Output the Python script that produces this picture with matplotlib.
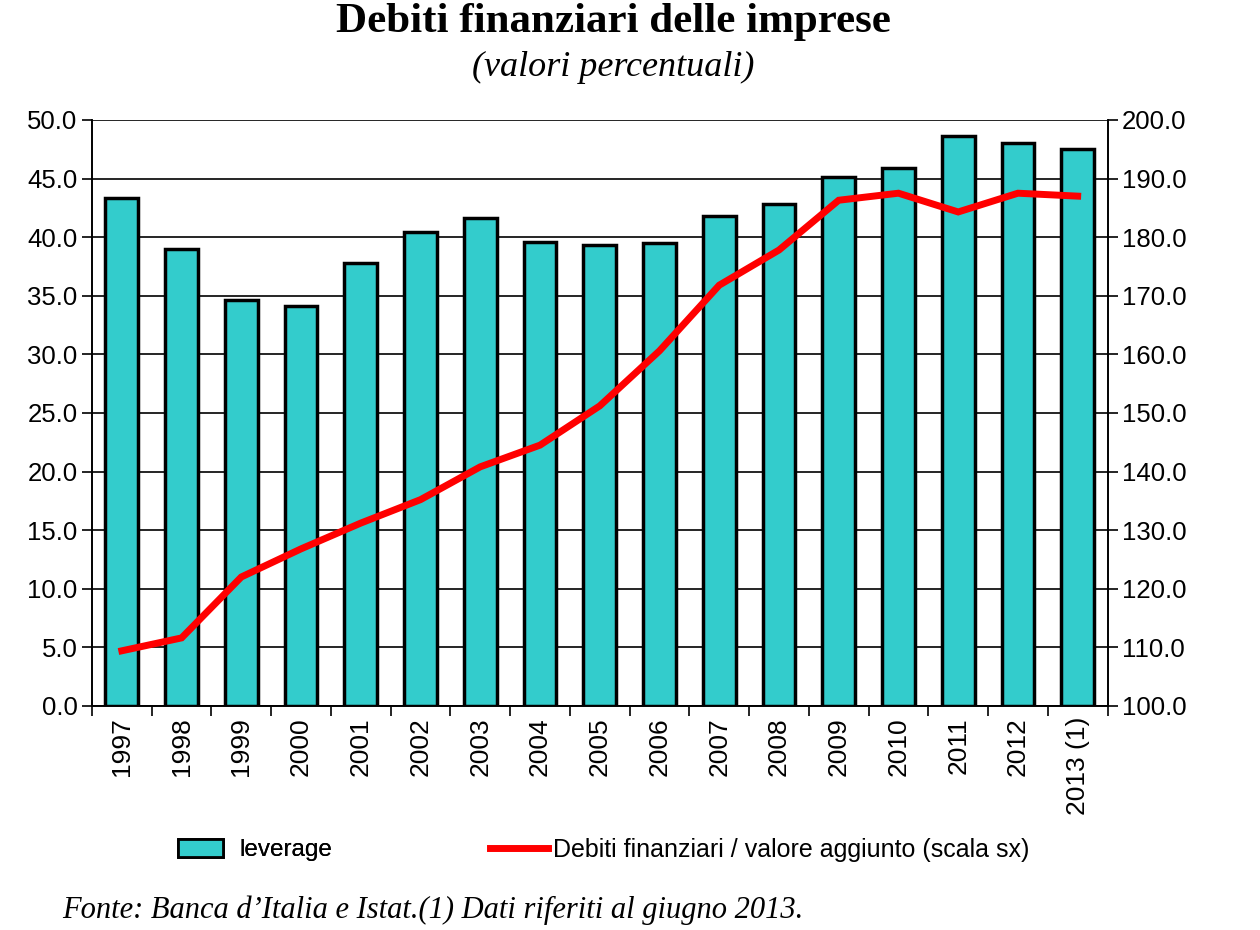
import numpy as np
import matplotlib.pyplot as plt
from matplotlib.patches import Patch
from matplotlib.lines import Line2D

anni = ["1997", "1998", "1999", "2000", "2001", "2002", "2003", "2004", "2005",
        "2006", "2007", "2008", "2009", "2010", "2011", "2012", "2013 (1)"]
leverage = [43.3, 39.0, 34.6, 34.1, 37.8, 40.4, 41.6, 39.6, 39.3,
            39.5, 41.8, 42.8, 45.1, 45.9, 48.6, 48.0, 47.5]
debiti_va = [109.4, 111.6, 122.0, 126.8, 131.2, 135.2, 140.8, 144.5, 151.2,
             160.6, 171.8, 177.8, 186.3, 187.5, 184.3, 187.5, 187.0]

plt.rcParams['font.family'] = ['Liberation Sans', 'DejaVu Sans']
serif = ["Liberation Serif", "DejaVu Serif"]

fig = plt.figure(figsize=(12.6, 9.3), dpi=100)
ax = fig.add_axes([0.073, 0.241, 0.806, 0.630])
ax2 = ax.twinx()

x = np.arange(len(anni))
ax.bar(x, leverage, width=0.55, color="#33CCCC", edgecolor="black", linewidth=2.5, zorder=3)
ax.set_ylim(0, 50)
ax.set_yticks(np.arange(0, 50.1, 5))
ax.set_yticklabels([f"{v:.1f}" for v in np.arange(0, 50.1, 5)], fontsize=18.5)
ax.yaxis.grid(True, color="black", linewidth=1.2, zorder=0)
ax.set_axisbelow(True)
ax.set_xlim(-0.5, len(anni) - 0.5)

# etichette al centro, tacche tra le categorie
ax.set_xticks(x)
ax.set_xticklabels(anni, rotation=90, fontsize=19)
ax.tick_params(axis="x", length=0, pad=8)
ax.set_xticks(np.arange(-0.5, len(anni), 1), minor=True)
ax.tick_params(axis="x", which="minor", length=7, width=1.2, direction="out")
ax.tick_params(axis="y", length=7, width=1.2, direction="out")

ax2.plot(x, debiti_va, color="#FF0000", linewidth=5, solid_joinstyle="miter", zorder=4)
ax2.set_ylim(100, 200)
ax2.set_yticks(np.arange(100, 200.1, 10))
ax2.set_yticklabels([f"{v:.1f}" for v in np.arange(100, 200.1, 10)], fontsize=18.5)
ax2.tick_params(axis="y", length=7, width=1.2, direction="out")

for a in (ax, ax2):
    a.spines["top"].set_visible(False)
    for s in ("left", "right", "bottom"):
        a.spines[s].set_linewidth(1.2)

fig.text(0.487, 0.976, "Debiti finanziari delle imprese", ha="center", va="center",
         fontsize=31, fontweight="bold", family=serif)
fig.text(0.487, 0.927, "(valori percentuali)", ha="center", va="center",
         fontsize=26, style="italic", family=serif)

leg1 = fig.legend([Patch(facecolor="#33CCCC", edgecolor="black", linewidth=2)], ["leverage"],
                  loc="center left", bbox_to_anchor=(0.141, 0.086), frameon=False,
                  fontsize=17.5, borderpad=0, borderaxespad=0,
                  handlelength=1.85, handleheight=0.75, handletextpad=0.7)
fig.add_artist(leg1)
fig.legend([Line2D([0], [0], color="#FF0000", linewidth=5)],
           ["Debiti finanziari / valore aggiunto (scala sx)"],
           loc="center left", bbox_to_anchor=(0.389, 0.086), frameon=False,
           fontsize=18, borderpad=0, borderaxespad=0,
           handlelength=2.3, handletextpad=0.2)

fig.text(0.049, 0.021, "Fonte: Banca d\u2019Italia e Istat.(1) Dati riferiti al giugno 2013.",
         ha="left", va="center", fontsize=22, style="italic", family=serif)

fig.savefig("out.png", dpi=100)
